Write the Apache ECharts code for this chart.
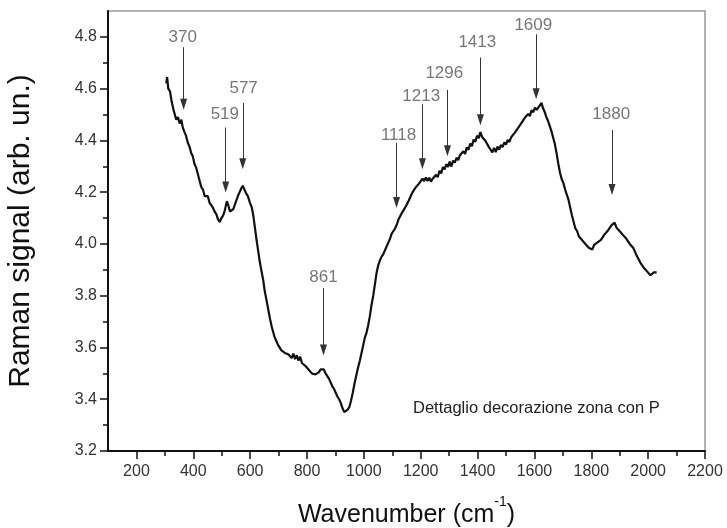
<!DOCTYPE html>
<html>
<head>
<meta charset="utf-8">
<script src="https://cdn.jsdelivr.net/npm/echarts@6/dist/echarts.min.js"></script>
<style>html,body{margin:0;padding:0;background:#fff}#c{width:727px;height:528px}</style>
</head>
<body>
<div id="c"></div>
<script>
const wavenumber = [305,308,312,318,324,330,335,340,346,352,358,363,368,374,381,387,393,398,404,410,416,422,428,434,440,446,451,457,463,469,475,481,487,493,499,505,511,518,523,529,535,541,546,552,557,563,569,574,580,586,592,599,606,611,616,622,628,634,640,646,651,658,664,670,676,681,686,692,698,704,710,716,722,728,734,740,746,752,758,764,770,776,782,788,794,800,806,812,818,824,830,836,842,848,853,859,865,871,877,883,889,895,901,907,913,919,925,931,937,943,949,955,961,967,973,979,986,992,998,1004,1009,1015,1021,1027,1033,1039,1045,1050,1056,1062,1068,1074,1080,1086,1092,1098,1104,1110,1116,1122,1128,1134,1140,1146,1152,1158,1164,1170,1176,1182,1188,1194,1200,1206,1212,1218,1224,1230,1236,1242,1248,1254,1260,1266,1272,1278,1284,1290,1296,1302,1308,1314,1320,1326,1332,1338,1344,1350,1356,1362,1368,1374,1380,1386,1392,1398,1404,1410,1416,1422,1428,1434,1440,1446,1452,1458,1464,1470,1476,1482,1488,1494,1500,1506,1512,1518,1524,1530,1536,1542,1548,1554,1560,1566,1572,1578,1584,1590,1596,1602,1608,1614,1620,1625,1630,1636,1642,1648,1654,1660,1666,1672,1678,1684,1690,1696,1702,1708,1714,1720,1726,1732,1738,1744,1750,1756,1762,1768,1774,1780,1786,1792,1798,1804,1810,1816,1822,1828,1834,1840,1846,1852,1858,1864,1870,1876,1882,1888,1894,1900,1906,1912,1918,1924,1930,1936,1942,1948,1954,1960,1966,1972,1978,1984,1990,1996,2002,2008,2014,2020,2026,2030];
const signal = [4.62,4.645,4.60,4.59,4.55,4.52,4.50,4.48,4.49,4.465,4.48,4.45,4.435,4.42,4.39,4.375,4.35,4.34,4.31,4.295,4.27,4.245,4.22,4.21,4.185,4.18,4.185,4.16,4.16,4.14,4.125,4.115,4.095,4.085,4.10,4.11,4.13,4.165,4.15,4.125,4.12,4.135,4.14,4.17,4.185,4.20,4.215,4.225,4.21,4.195,4.185,4.16,4.14,4.11,4.07,4.02,3.975,3.93,3.895,3.86,3.82,3.78,3.745,3.71,3.68,3.66,3.64,3.625,3.61,3.605,3.589,3.596,3.579,3.581,3.574,3.576,3.559,3.576,3.555,3.57,3.549,3.564,3.54,3.546,3.529,3.536,3.514,3.521,3.499,3.506,3.496,3.50,3.505,3.515,3.52,3.515,3.50,3.49,3.48,3.465,3.45,3.44,3.425,3.41,3.40,3.385,3.365,3.35,3.355,3.36,3.37,3.395,3.425,3.46,3.49,3.52,3.55,3.58,3.61,3.64,3.655,3.685,3.72,3.765,3.80,3.845,3.89,3.915,3.935,3.95,3.96,3.975,3.99,4.005,4.02,4.04,4.05,4.06,4.075,4.095,4.092,4.12,4.118,4.142,4.143,4.168,4.168,4.197,4.193,4.218,4.213,4.233,4.228,4.252,4.243,4.257,4.243,4.256,4.241,4.252,4.248,4.267,4.258,4.283,4.272,4.297,4.288,4.308,4.298,4.318,4.299,4.322,4.314,4.333,4.324,4.343,4.338,4.358,4.348,4.373,4.363,4.388,4.378,4.403,4.394,4.418,4.409,4.432,4.413,4.416,4.398,4.396,4.374,4.376,4.354,4.371,4.355,4.376,4.364,4.382,4.374,4.392,4.384,4.402,4.394,4.412,4.409,4.428,4.424,4.447,4.443,4.467,4.463,4.487,4.483,4.502,4.494,4.517,4.509,4.527,4.518,4.528,4.524,4.545,4.525,4.51,4.49,4.475,4.455,4.435,4.41,4.385,4.35,4.31,4.275,4.25,4.235,4.21,4.19,4.17,4.14,4.11,4.085,4.06,4.05,4.03,4.03,4.014,4.02,3.999,4.001,3.984,3.986,3.979,3.996,3.989,4.006,3.999,4.016,4.014,4.036,4.029,4.051,4.049,4.071,4.064,4.082,4.064,4.066,4.049,4.051,4.034,4.036,4.019,4.021,3.999,4.006,3.984,3.981,3.954,3.956,3.929,3.931,3.909,3.911,3.894,3.901,3.879,3.886,3.89,3.885,3.89];

const xMajorTicks = [200,400,600,800,1000,1200,1400,1600,1800,2000,2200];
const xMinorTicks = [300,500,700,900,1100,1300,1500,1700,1900,2100];
const yMajorTicks = [3.2,3.4,3.6,3.8,4.0,4.2,4.4,4.6,4.8];
const yMinorTicks = [3.3,3.5,3.7,3.9,4.1,4.3,4.5,4.7];

const peakLabels = ['370','519','577','861','1118','1213','1296','1413','1609','1880'];
const labelX   = [363, 511, 577, 858, 1122, 1202, 1283, 1399, 1596, 1870];
const labelY   = [4.80, 4.50, 4.60, 3.87, 4.42, 4.57, 4.66, 4.78, 4.846, 4.50];
const arrowX   = [366, 514, 574, 858, 1115, 1206, 1294, 1410, 1606, 1873];
const arrowTop = [4.76, 4.45, 4.545, 3.83, 4.39, 4.54, 4.595, 4.72, 4.81, 4.44];
const arrowEnd = [4.54, 4.22, 4.31, 3.59, 4.16, 4.31, 4.36, 4.48, 4.58, 4.21];

const noteText = 'Dettaglio decorazione zona con P';

const FONT = '"Liberation Sans", Arial, sans-serif';

const chart = echarts.init(document.getElementById('c'), null, {renderer: 'canvas'});

const lineData = wavenumber.map((w, i) => [w, signal[i]]);
const labelData = peakLabels.map((t, i) => ({name: t, value: [labelX[i], labelY[i]]}));
const arrowData = arrowX.map((x, i) => [{coord: [x, arrowTop[i]]}, {coord: [x, arrowEnd[i]]}]);

const axisCommon = {type: 'value', splitLine: {show: false}};

chart.setOption({
  animation: false,
  backgroundColor: '#fff',
  textStyle: {fontFamily: FONT},
  title: {
    text: noteText, left: 408, top: 395,
    textStyle: {fontSize: 16.5, fontWeight: 'normal', color: '#222', fontFamily: FONT}
  },
  grid: {left: 108, right: 22, top: 11, bottom: 77, show: true, borderColor: '#999', borderWidth: 1.5,
    containLabel: false, outerBoundsMode: 'none'},
  xAxis: [
    Object.assign({}, axisCommon, {
      min: 100, max: 2200, position: 'bottom',
      axisLine: {show: true, onZero: false, lineStyle: {color: '#111', width: 2}},
      axisTick: {show: true, customValues: xMajorTicks, length: 8, lineStyle: {color: '#111', width: 1.5}},
      axisLabel: {customValues: xMajorTicks, margin: 13, fontSize: 16, color: '#333', fontFamily: FONT,
        formatter: v => String(v)},
      name: '{a|Wavenumber (cm}{sup|-1}{a|)}', nameLocation: 'middle', nameGap: 44,
      nameTextStyle: {fontSize: 25, color: '#111', fontFamily: FONT, rich: {
        a: {fontSize: 25, lineHeight: 40, color: '#111', fontFamily: FONT},
        sup: {fontSize: 14, lineHeight: 14, verticalAlign: 'top', color: '#111', fontFamily: FONT}
      }}
    }),
    Object.assign({}, axisCommon, {
      min: 100, max: 2200, position: 'bottom',
      axisLine: {show: false},
      axisTick: {show: true, customValues: xMinorTicks, length: 5, lineStyle: {color: '#111', width: 1.5}},
      axisLabel: {show: false}
    })
  ],
  yAxis: [
    Object.assign({}, axisCommon, {
      min: 3.2, max: 4.9, position: 'left',
      axisLine: {show: true, onZero: false, lineStyle: {color: '#111', width: 2}},
      axisTick: {show: true, customValues: yMajorTicks, length: 8, lineStyle: {color: '#111', width: 1.5}},
      axisLabel: {customValues: yMajorTicks, margin: 11, fontSize: 16, color: '#333', fontFamily: FONT,
        formatter: v => v.toFixed(1)},
      name: 'Raman signal (arb. un.)', nameLocation: 'middle', nameGap: 72, nameRotate: 90,
      nameTextStyle: {fontSize: 30, color: '#111', fontFamily: FONT}
    }),
    Object.assign({}, axisCommon, {
      min: 3.2, max: 4.9, position: 'left',
      axisLine: {show: false},
      axisTick: {show: true, customValues: yMinorTicks, length: 5, lineStyle: {color: '#111', width: 1.5}},
      axisLabel: {show: false}
    })
  ],
  series: [
    {
      type: 'line', xAxisIndex: 0, yAxisIndex: 0, data: lineData,
      showSymbol: false, symbol: 'none', smooth: false,
      lineStyle: {color: '#111', width: 2.2},
      markLine: {
        silent: true, animation: false,
        symbol: ['none', 'triangle'], symbolSize: [7, 11],
        label: {show: false},
        lineStyle: {type: 'solid', color: '#333', width: 1},
        itemStyle: {color: '#111'},
        data: arrowData
      }
    },
    {
      type: 'scatter', xAxisIndex: 0, yAxisIndex: 0, data: labelData,
      symbolSize: 0, silent: true,
      label: {show: true, position: 'inside', formatter: p => p.name, fontSize: 17, color: '#555', fontFamily: FONT}
    }
  ]
});
</script>
</body>
</html>
